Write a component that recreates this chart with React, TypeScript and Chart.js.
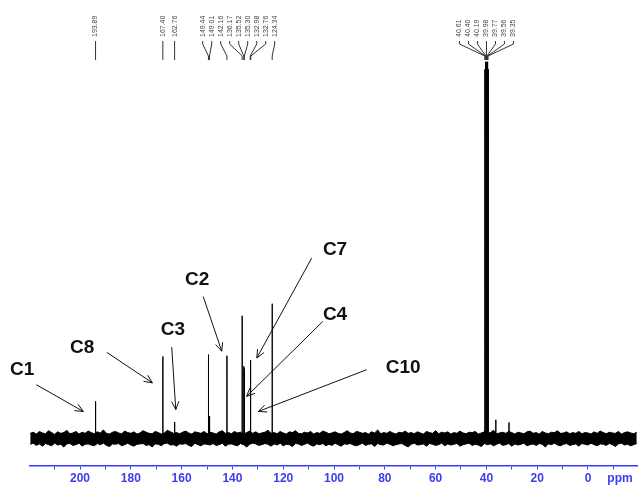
import { useEffect, useRef } from "react";
import { Chart, registerables } from "chart.js";

Chart.register(...registerables);

// 13C chemical shifts (ppm) and their relative peak heights
const shifts = [
  193.89, 167.4, 162.76, 149.44, 149.01, 142.16, 136.17, 135.52, 135.3, 132.98, 132.76, 124.34,
  40.61, 40.4, 40.19, 39.98, 39.77, 39.56, 39.35, 36.3, 31.1,
];
const heights = [
  9.9, 21.8, 4.4, 22.3, 6.0, 22.0, 32.6, 19.2, 18.6, 8.0, 20.8, 35.8,
  98, 100, 99, 100, 99, 100, 98, 5.0, 4.3,
];

// Peak-pick labels printed above the spectrum, grouped by fan
const pickedGroups = [
  [193.89],
  [167.4],
  [162.76],
  [149.44, 149.01, 142.16, 136.17, 135.52, 135.3, 132.98, 132.76, 124.34],
  [40.61, 40.4, 40.19, 39.98, 39.77, 39.56, 39.35],
];

// Baseline noise envelope, sampled every 1.2 ppm from 219.6 ppm to -19.2 ppm
const noiseStart = 219.6;
const noiseStep = 1.2;
const noiseUpper = [
  1.4, 1.7, 1.2, 1.9, 1.5, 1.3, 2.1, 1.6, 1.1, 1.8, 1.4, 1.6, 2.2, 1.3, 1.5, 1.9, 1.2, 1.7, 1.4, 2.0,
  1.6, 1.3, 1.8, 1.5, 2.3, 1.4, 1.2, 1.7, 1.9, 1.5, 1.3, 2.0, 1.6, 1.4, 1.8, 1.2, 1.5, 2.1, 1.7, 1.4,
  1.3, 1.9, 1.6, 1.2, 1.5, 2.2, 1.8, 1.4, 1.6, 1.3, 1.7, 2.0, 1.5, 1.2, 1.8, 1.6, 1.4, 1.9, 1.3, 1.7,
  1.5, 1.2, 1.8, 2.1, 1.4, 1.6, 1.3, 1.9, 1.5, 1.7, 1.2, 1.6, 2.0, 1.4, 1.8, 1.3, 1.5, 1.7, 2.2, 1.4,
  1.6, 1.3, 1.9, 1.5, 1.2, 1.8, 1.6, 2.1, 1.4, 1.3, 1.7, 1.5, 1.9, 1.2, 1.6, 1.4, 2.0, 1.7, 1.3, 1.5,
  1.8, 1.4, 1.2, 1.6, 2.1, 1.5, 1.3, 1.9, 1.7, 1.4, 1.6, 1.2, 1.8, 1.5, 2.3, 1.3, 1.6, 1.4, 1.9, 1.5,
  1.2, 1.7, 1.5, 2.0, 1.4, 1.6, 1.3, 1.8, 1.5, 1.2, 1.9, 1.6, 1.4, 2.1, 1.3, 1.7, 1.5, 1.8, 1.2, 1.6,
  1.4, 2.0, 1.5, 1.3, 1.7, 1.6, 1.9, 1.2, 1.5, 1.8, 1.4, 1.6, 2.2, 1.3, 1.5, 1.7, 1.4, 1.9, 1.6, 1.2,
  1.7, 1.5, 1.3, 1.8, 2.0, 1.4, 1.6, 1.2, 1.9, 1.5, 1.3, 1.7, 1.6, 2.1, 1.4, 1.5, 1.8, 1.3, 1.6, 1.4,
  1.9, 1.3, 1.6, 1.5, 1.2, 1.8, 1.4, 2.0, 1.6, 1.3, 1.7, 1.5, 1.4, 1.9, 1.2, 1.6, 1.8, 1.5, 1.3, 1.7,
];
const noiseLower = [
  -1.5, -1.2, -1.8, -1.4, -2.0, -1.3, -1.6, -1.9, -1.2, -1.7, -1.5, -2.2, -1.4, -1.3, -1.8, -1.6, -1.2, -2.0, -1.5, -1.4,
  -1.7, -1.9, -1.3, -1.6, -1.2, -1.8, -2.1, -1.4, -1.5, -1.3, -1.9, -1.6, -1.2, -1.7, -2.0, -1.5, -1.4, -1.3, -1.8, -1.6,
  -2.2, -1.4, -1.5, -1.9, -1.3, -1.2, -1.7, -1.6, -2.0, -1.4, -1.5, -1.3, -1.8, -2.1, -1.2, -1.6, -1.9, -1.4, -1.5, -1.7,
  -1.3, -1.8, -1.6, -1.2, -2.0, -1.5, -1.4, -1.7, -1.9, -1.3, -1.6, -2.2, -1.5, -1.2, -1.4, -1.8, -1.6, -1.3, -1.5, -2.0,
  -1.4, -1.7, -1.2, -1.9, -1.5, -1.6, -2.1, -1.3, -1.4, -1.8, -1.5, -1.2, -1.7, -2.0, -1.4, -1.6, -1.3, -1.9, -1.5, -1.8,
  -1.2, -1.6, -2.0, -1.4, -1.5, -1.3, -1.7, -1.9, -1.6, -1.2, -1.8, -1.5, -1.4, -2.1, -1.3, -1.6, -1.7, -1.2, -1.5, -1.9,
  -1.6, -1.4, -1.3, -1.8, -2.2, -1.5, -1.2, -1.7, -1.6, -1.4, -2.0, -1.3, -1.5, -1.8, -1.6, -1.2, -1.9, -1.4, -1.7, -1.5,
  -1.3, -2.0, -1.6, -1.4, -1.2, -1.8, -1.5, -1.7, -2.1, -1.3, -1.6, -1.4, -1.9, -1.5, -1.2, -1.8, -1.6, -1.3, -2.0, -1.4,
  -1.7, -1.5, -1.2, -1.9, -1.6, -1.4, -1.8, -1.3, -1.5, -2.2, -1.4, -1.6, -1.2, -1.7, -1.9, -1.5, -1.3, -1.8, -1.6, -1.4,
  -2.0, -1.3, -1.5, -1.7, -1.2, -1.6, -1.9, -1.4, -1.5, -1.8, -1.3, -1.6, -2.1, -1.4, -1.2, -1.7, -1.5, -1.9, -1.6, -1.3,
];

// Labelled ppm ticks on the axis
const tickLabels = [200, 180, 160, 140, 120, 100, 80, 60, 40, 20, 0];

// Carbon assignments: label anchor and arrow in (ppm, intensity)
const assignments = [
  { text: "C1", at: [222.8, 18.3], from: [217.2, 14.3], to: [198.7, 7.2] },
  { text: "C8", at: [199.2, 24.1], from: [189.5, 22.9], to: [171.5, 14.8] },
  { text: "C3", at: [163.4, 28.9], from: [163.9, 24.3], to: [162.3, 7.7] },
  { text: "C2", at: [153.9, 42.2], from: [151.5, 37.7], to: [144.2, 23.2] },
  { text: "C7", at: [99.6, 50.1], from: [108.8, 47.9], to: [130.4, 21.4] },
  { text: "C4", at: [99.6, 32.9], from: [104.4, 31.1], to: [134.4, 11.2] },
  { text: "C10", at: [72.8, 18.8], from: [87.1, 18.3], to: [129.8, 7.2] },
];

const AXIS_BLUE = "#3c3cf0";

const overlayPlugin = {
  id: "spectrumOverlay",
  afterDraw(chart: any) {
    const ctx = chart.ctx;
    const xs = chart.scales.x;
    const ys = chart.scales.y;
    ctx.save();

    // peak-pick labels with their fan lines
    const spacing = 9;
    pickedGroups.forEach((group) => {
      const px = group.map((v) => xs.getPixelForValue(v));
      const mean = px.reduce((a, b) => a + b, 0) / px.length;
      const first = mean - ((group.length - 1) * spacing) / 2;
      group.forEach((v, i) => {
        const lx = group.length === 1 ? px[i] : first + i * spacing;
        ctx.strokeStyle = "#333";
        ctx.lineWidth = 1;
        ctx.beginPath();
        ctx.moveTo(lx, 41);
        ctx.lineTo(lx, 44);
        ctx.lineTo(px[i], 56);
        ctx.lineTo(px[i], 60);
        ctx.stroke();

        ctx.save();
        ctx.translate(lx, 37);
        ctx.rotate(-Math.PI / 2);
        ctx.fillStyle = "#444";
        ctx.font = "7px Arial";
        ctx.textAlign = "left";
        ctx.textBaseline = "middle";
        ctx.fillText(v.toFixed(2), 0, 0);
        ctx.restore();
      });
    });

    // assignment labels and arrows
    ctx.fillStyle = "#111";
    ctx.strokeStyle = "#111";
    ctx.lineWidth = 1;
    ctx.font = "bold 19px Arial";
    ctx.textAlign = "center";
    ctx.textBaseline = "middle";
    assignments.forEach((a) => {
      ctx.fillText(a.text, xs.getPixelForValue(a.at[0]), ys.getPixelForValue(a.at[1]));
      const x1 = xs.getPixelForValue(a.from[0]);
      const y1 = ys.getPixelForValue(a.from[1]);
      const x2 = xs.getPixelForValue(a.to[0]);
      const y2 = ys.getPixelForValue(a.to[1]);
      const ang = Math.atan2(y2 - y1, x2 - x1);
      const head = 9;
      ctx.beginPath();
      ctx.moveTo(x1, y1);
      ctx.lineTo(x2, y2);
      ctx.moveTo(x2 - head * Math.cos(ang - 0.42), y2 - head * Math.sin(ang - 0.42));
      ctx.lineTo(x2, y2);
      ctx.lineTo(x2 - head * Math.cos(ang + 0.42), y2 - head * Math.sin(ang + 0.42));
      ctx.stroke();
    });

    // unit label at the right end of the axis
    ctx.fillStyle = AXIS_BLUE;
    ctx.font = "bold 12px Arial";
    ctx.textAlign = "center";
    ctx.textBaseline = "middle";
    ctx.fillText("ppm", 620, xs.top + 4 + 2 + 7.5);

    ctx.restore();
  },
};

export default function App() {
  const canvasRef = useRef<HTMLCanvasElement | null>(null);

  useEffect(() => {
    if (!canvasRef.current) return;

    const upper = noiseUpper.map((n, i) => ({ x: noiseStart - i * noiseStep, y: n }));
    const lower = noiseLower.map((n, i) => ({ x: noiseStart - i * noiseStep, y: n }));

    const sticks: { x: number; y: number }[] = [];
    shifts.forEach((s, i) => {
      sticks.push({ x: s + 0.04, y: 0 }, { x: s, y: heights[i] }, { x: s - 0.04, y: 0 });
    });
    sticks.sort((a, b) => b.x - a.x);

    const chart = new Chart(canvasRef.current, {
      type: "line",
      data: {
        datasets: [
          {
            data: upper,
            borderColor: "#000",
            backgroundColor: "#000",
            borderWidth: 1,
            pointRadius: 0,
            tension: 0,
            fill: "+1",
          },
          {
            data: lower,
            borderColor: "#000",
            borderWidth: 1,
            pointRadius: 0,
            tension: 0,
            fill: false,
          },
          {
            data: sticks,
            borderColor: "#000",
            borderWidth: 1,
            pointRadius: 0,
            tension: 0,
            fill: false,
          },
        ],
      },
      options: {
        responsive: false,
        animation: false,
        layout: { padding: { left: 30, right: 1, top: 0, bottom: 0 } },
        plugins: {
          legend: { display: false },
          tooltip: { enabled: false },
        },
        scales: {
          x: {
            type: "linear",
            reverse: true,
            min: -19.3,
            max: 219.7,
            grid: {
              display: true,
              drawOnChartArea: false,
              drawTicks: true,
              tickLength: 4,
              color: AXIS_BLUE,
            },
            border: { display: true, color: AXIS_BLUE, width: 1.5 },
            ticks: {
              stepSize: 10,
              includeBounds: false,
              autoSkip: false,
              maxRotation: 0,
              padding: 2,
              color: AXIS_BLUE,
              font: { family: "Arial", size: 12, weight: "bold" },
              callback: (v: any) => {
                const r = Math.round(Number(v));
                return Math.abs(Number(v) - r) < 1e-6 && tickLabels.includes(r) ? String(r) : "";
              },
            },
          },
          y: { display: false, min: -7.16, max: 116.4 },
        },
      },
      plugins: [overlayPlugin],
    });

    return () => chart.destroy();
  }, []);

  return (
    <div style={{ position: "absolute", left: 0, top: 0, width: 638, height: 488, background: "#fff" }}>
      <canvas ref={canvasRef} width={638} height={488} />
    </div>
  );
}
